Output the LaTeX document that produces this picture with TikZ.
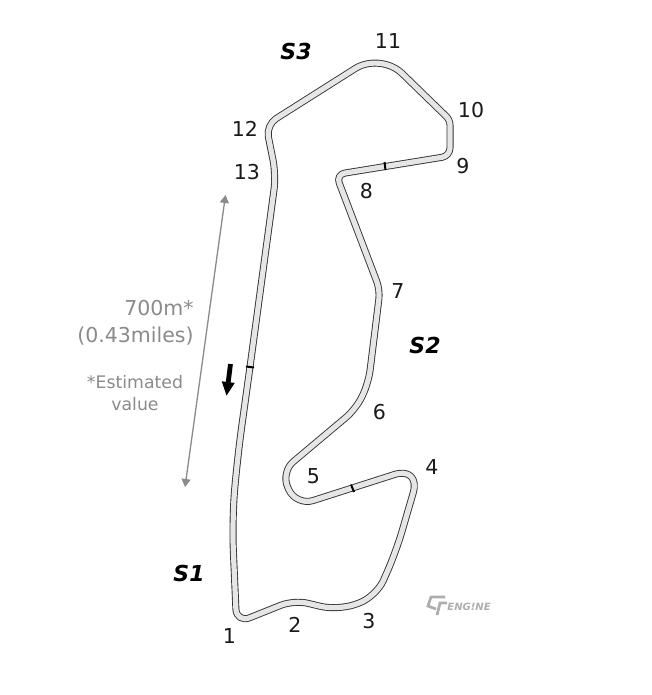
\documentclass[tikz,border=0pt]{standalone}
\usepackage{fontspec}
\setmainfont{DejaVu Sans}
\usetikzlibrary{arrows.meta}
\definecolor{trackfill}{HTML}{E6E6E6}
\definecolor{notegray}{HTML}{8A8A8A}
\tikzset{
	track/.style={line width=0.9pt, draw=black!80, double=trackfill, double distance=5.2pt, line join=round},
	turnlabel/.style={font=\fontsize{20.5}{20.5}\selectfont, text=black!90, inner sep=0pt},
	sectorlabel/.style={font=\fontsize{22}{22}\selectfont\bfseries\itshape, text=black, inner sep=0pt},
	notelabel/.style={text=notegray, inner sep=0pt},
	sectormark/.style={line width=2pt, draw=black}
}
\begin{document}
\begin{tikzpicture}[x=1pt, y=-1pt]
		%%%%% START %%%%%
		\useasboundingbox (0, 0) rectangle (652, 695);
		
		% circuit outline, radius given before each corner
		\draw[track] (250,367)
			[rounded corners=30pt] -- (237.5,457)
			[rounded corners=30pt] -- (232,520)
			[rounded corners=14pt] -- (236.5,623)
			[rounded corners=14pt] -- (294,600)
			[rounded corners=18pt] -- (338,610.5)
			[rounded corners=18pt] -- (376,597)
			[rounded corners=22pt] -- (396,552)
			[rounded corners=28pt] -- (421,466)
			[rounded corners=18pt] -- (296,506)
			[rounded corners=16pt] -- (281,472)
			[rounded corners=13pt] -- (356,409)
			[rounded corners=13pt] -- (368.5,383)
			[rounded corners=9pt] -- (380,290)
			[rounded corners=9pt] -- (336,174.5)
			[rounded corners=8pt] -- (450,156)
			[rounded corners=5pt] -- (450,120)
			[rounded corners=30pt] -- (380.5,52.5)
			[rounded corners=12pt] -- (266,125)
			[rounded corners=15pt] -- (276,175)
			[sharp corners] -- cycle;
		
		% sector marks
		\draw[sectormark] (246, 366.5) -- (254, 367.5);
		\draw[sectormark] (351, 484.5) -- (354, 492);
		\draw[sectormark] (384.5, 162) -- (385.5, 170);
		
		% turn numbers
		\node[turnlabel] (t1) at (229.5, 636.5) {1};
		\node[turnlabel] (t2) at (295, 624.5) {2};
		\node[turnlabel] (t3) at (369, 621.5) {3};
		\node[turnlabel] (t4) at (432, 467.5) {4};
		\node[turnlabel] (t5) at (313.5, 476.5) {5};
		\node[turnlabel] (t6) at (379.5, 412.5) {6};
		\node[turnlabel] (t7) at (398, 291.5) {7};
		\node[turnlabel] (t8) at (366.5, 191.5) {8};
		\node[turnlabel] (t9) at (463, 166.5) {9};
		\node[turnlabel] (t10) at (471, 110.5) {10};
		\node[turnlabel] (t11) at (388, 41.5) {11};
		\node[turnlabel] (t12) at (245, 128.5) {12};
		\node[turnlabel] (t13) at (247, 172.5) {13};
		
		% sectors
		\node[sectorlabel] (s1) at (189, 573.5) {S1};
		\node[sectorlabel] (s2) at (425, 345.5) {S2};
		\node[sectorlabel] (s3) at (296, 51.5) {S3};
		
		% straight length
		\coordinate (lentop) at (225.5, 195);
		\coordinate (lenbot) at (185, 487);
		\draw[{Triangle[length=8pt,width=9pt]}-{Triangle[length=8pt,width=9pt]}, line width=1.3pt, draw=notegray, color=notegray] (lentop) -- (lenbot);
		\node[notelabel, font=\fontsize{20.5}{27}\selectfont, align=right] (lenlabel) at (135.5, 323) {700m*\\(0.43miles)};
		\node[notelabel, font=\fontsize{17.3}{22}\selectfont, align=center] (estlabel) at (135, 393) {*Estimated\\value};
		
		% direction
		\coordinate (dirtop) at (230.5, 364);
		\coordinate (dirbot) at (226.5, 396);
		\draw[-{Triangle[length=14pt,width=12pt]}, line width=4.8pt] (dirtop) -- (dirbot);
		
		% logo
		\draw[line width=2.8pt, draw=black!32] (445, 597) -- (431, 597) -- (428, 606) -- (436, 609);
		\draw[line width=2.8pt, draw=black!32] (447, 603) -- (440, 603) -- (437, 615);
		\node[inner sep=0pt, text=black!32, font=\fontsize{10}{10}\selectfont\bfseries\itshape] (logotext) at (469, 606.5) {ENG!NE};
		
		%%%%% END %%%%%
	\end{tikzpicture}
\end{document}
